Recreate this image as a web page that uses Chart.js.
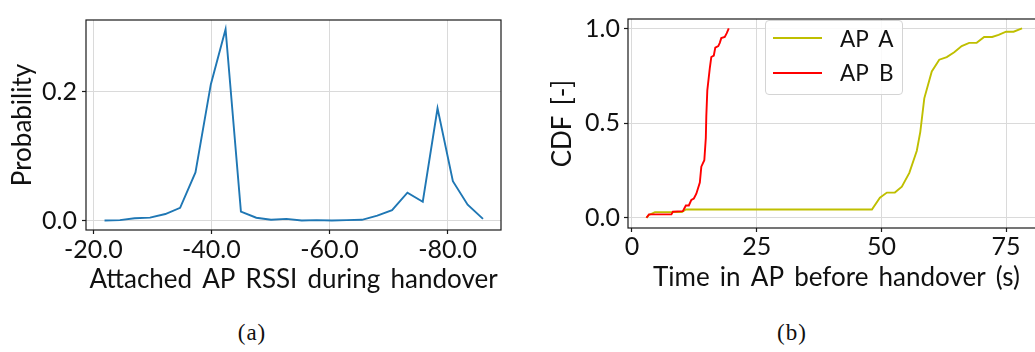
<!DOCTYPE html>
<html>
<head>
<meta charset="utf-8">
<title>AP handover statistics</title>
<script src="https://cdn.jsdelivr.net/npm/chart.js"></script>
<style>
  html, body { margin: 0; padding: 0; background: #fff; }
  #wrap { position: relative; width: 1035px; height: 352px; overflow: hidden; background: #fff; }
  canvas { position: absolute; top: 0; }
  #rssiChart { left: 0; }
  #timeChart { left: 520px; }
  .caption {
    position: absolute; top: 320px; line-height: 26px;
    font-family: "Liberation Serif", serif; font-size: 23px; color: #111;
    transform: translateX(-50%); letter-spacing: 1px;
  }
  #legendB {
    position: absolute; left: 765px; top: 20px; width: 138px; box-sizing: border-box;
    border: 1px solid #d4d4d4; border-radius: 4px; background: rgba(255,255,255,0.85);
    padding: 0 0 4px 7px; font-family: Lato, sans-serif; font-size: 22.5px; color: #111;
  }
  .lg-row { display: flex; align-items: center; height: 34.4px; word-spacing: 5px; }
  .lg-line { width: 49px; height: 2px; margin-right: 18px; flex: none; }
</style>
</head>
<body>
<div id="wrap">
  <canvas id="rssiChart" width="520" height="300"></canvas>
  <canvas id="timeChart" width="540" height="300"></canvas>
  <div id="legendB"></div>
  <div class="caption" style="left:252px">(a)</div>
  <div class="caption" style="left:792px">(b)</div>
</div>
<script>
// (a) probability of attached-AP RSSI at handover time (dBm bins)
const rssiBins = [-21.9, -24.5, -27.0, -29.6, -32.2, -34.7, -37.3, -39.9, -42.4, -45.0, -47.6, -50.1, -52.7,
                  -55.3, -57.8, -60.4, -62.9, -65.5, -68.1, -70.6, -73.2, -75.8, -78.3, -80.9, -83.4, -86.0];
const rssiProb = [0.000, 0.0005, 0.0034, 0.0044, 0.0100, 0.0196, 0.0745, 0.2110, 0.2966, 0.0137, 0.0042, 0.0010, 0.0025,
                  0.0000, 0.0005, 0.0000, 0.0005, 0.0010, 0.0074, 0.0160, 0.0430, 0.0290, 0.1740, 0.0610, 0.0245, 0.0025];
const rssiTicks = [-20, -40, -60, -80];
const probTicks = [0, 0.2];

// (b) CDF of time spent in each AP before handover (s)
const timeA = [2.9, 3.4, 4.6, 10.0, 10.8, 48.1, 49.7, 51.1, 52.7, 54.1, 55.6, 57.1, 57.8, 58.6, 60.1, 61.6,
               63.1, 64.6, 66.1, 67.6, 69.1, 70.6, 72.2, 73.5, 75.0, 76.5, 78.2];
const cdfA  = [0.000, 0.015, 0.030, 0.030, 0.044, 0.044, 0.106, 0.133, 0.133, 0.164, 0.237, 0.354, 0.454, 0.631, 0.773, 0.835,
               0.849, 0.874, 0.907, 0.924, 0.924, 0.955, 0.955, 0.966, 0.983, 0.983, 1.000];
const timeB = [2.9, 3.4, 4.2, 7.9, 8.2, 10.2, 10.8, 11.4, 11.9, 12.4, 12.9, 13.6, 13.9, 14.5, 14.8, 14.9, 15.1,
               15.6, 15.9, 16.4, 16.7, 17.3, 17.6, 17.9, 18.6, 19.0, 19.4];
const cdfB  = [0.000, 0.018, 0.018, 0.018, 0.032, 0.035, 0.065, 0.065, 0.094, 0.102, 0.127, 0.186, 0.270, 0.304, 0.421, 0.538, 0.673,
               0.790, 0.849, 0.857, 0.899, 0.907, 0.924, 0.949, 0.955, 0.975, 1.000];
const timeTicks = [0, 25, 50, 75];
const cdfTicks = [0, 0.5, 1.0];
const seriesNames = ['AP A', 'AP B'];

const FONT = 'Lato, sans-serif';
const TEXT = '#111';
const GRID = '#dadada';
const SPINE = '#1a1a1a';
const tickFont = { family: FONT, size: 25 };
const titleFont = { family: FONT, size: 26 };

const toPoints = (xs, ys) => xs.map((x, i) => ({ x, y: ys[i] }));
const fixedTicks = values => scale => { scale.ticks = values.map(v => ({ value: v })); };

// wider gaps between words in the axis titles
const spacingPlugin = {
  id: 'spacing',
  beforeDraw(chart) { chart.ctx.wordSpacing = '3.5px'; }
};

// box around the plotting area, drawn above the lines
const framePlugin = {
  id: 'frame',
  afterDatasetsDraw(chart) {
    const { ctx, chartArea: a } = chart;
    ctx.save();
    ctx.strokeStyle = SPINE;
    ctx.lineWidth = 1.2;
    ctx.strokeRect(a.left, a.top, a.right - a.left, a.bottom - a.top);
    ctx.restore();
  }
};

function axis(extra) {
  return Object.assign({
    type: 'linear',
    border: { display: false },
    grid: { color: GRID, lineWidth: 1, tickColor: SPINE, tickLength: 4, tickWidth: 1.2 },
  }, extra);
}

Chart.defaults.font.family = FONT;
Chart.defaults.color = TEXT;

new Chart(document.getElementById('rssiChart'), {
  type: 'scatter',
  data: {
    datasets: [{
      data: toPoints(rssiBins, rssiProb),
      showLine: true, borderColor: '#1f77b4', borderWidth: 1.9,
      pointRadius: 0, tension: 0, fill: false
    }]
  },
  options: {
    responsive: false, animation: false, devicePixelRatio: 1,
    layout: { padding: { top: 8, right: 19, left: 0, bottom: 0 } },
    plugins: { legend: { display: false }, tooltip: { enabled: false } },
    scales: {
      x: axis({
        reverse: true, min: -89.05, max: -18.76,
        afterBuildTicks: fixedTicks(rssiTicks),
        afterFit: s => { s.height = 70; },
        ticks: { font: tickFont, color: TEXT, padding: 1, maxRotation: 0, autoSkip: false,
                 callback: v => v.toFixed(1) },
        title: { display: true, text: 'Attached AP RSSI during handover', font: titleFont, color: TEXT,
                 padding: { top: 0, bottom: 5 } }
      }),
      y: axis({
        min: -0.0148, max: 0.311,
        afterBuildTicks: fixedTicks(probTicks),
        afterFit: s => { s.width = 86; },
        ticks: { font: tickFont, color: TEXT, padding: 5, callback: v => v.toFixed(1) },
        title: { display: true, text: 'Probability', font: titleFont, color: TEXT,
                 padding: { top: 7, bottom: 0 } }
      })
    }
  },
  plugins: [spacingPlugin, framePlugin]
});

const timeChart = new Chart(document.getElementById('timeChart'), {
  type: 'scatter',
  data: {
    datasets: [
      { label: seriesNames[0], data: toPoints(timeA, cdfA), order: 1,
        showLine: true, borderColor: '#bfbf00', borderWidth: 1.9, pointRadius: 0, tension: 0, fill: false },
      { label: seriesNames[1], data: toPoints(timeB, cdfB), order: 0,
        showLine: true, borderColor: '#ff0000', borderWidth: 1.9, pointRadius: 0, tension: 0, fill: false }
    ]
  },
  options: {
    responsive: false, animation: false, devicePixelRatio: 1,
    layout: { padding: { top: 8, right: 15, left: 0, bottom: 0 } },
    plugins: { legend: { display: false }, tooltip: { enabled: false } },
    scales: {
      x: axis({
        min: -0.8, max: 82.8,
        afterBuildTicks: fixedTicks(timeTicks),
        afterFit: s => { s.height = 72; },
        ticks: { font: tickFont, color: TEXT, padding: 0, maxRotation: 0, autoSkip: false,
                 callback: v => String(v) },
        title: { display: true, text: 'Time in AP before handover (s)', font: titleFont, color: TEXT,
                 padding: { top: 0, bottom: 7 } }
      }),
      y: axis({
        min: -0.054, max: 1.05,
        afterBuildTicks: fixedTicks(cdfTicks),
        afterFit: s => { s.width = 108; },
        ticks: { font: tickFont, color: TEXT, padding: 4, callback: v => v.toFixed(1) },
        title: { display: true, text: 'CDF [-]', font: titleFont, color: TEXT,
                 padding: { top: 27, bottom: 0 } }
      })
    }
  },
  plugins: [spacingPlugin, framePlugin]
});

// legend entries built from the datasets of chart (b)
const legendEl = document.getElementById('legendB');
timeChart.data.datasets.forEach(ds => {
  const row = document.createElement('div');
  row.className = 'lg-row';
  const line = document.createElement('span');
  line.className = 'lg-line';
  line.style.background = ds.borderColor;
  const label = document.createElement('span');
  label.textContent = ds.label;
  row.appendChild(line);
  row.appendChild(label);
  legendEl.appendChild(row);
});
</script>
</body>
</html>
